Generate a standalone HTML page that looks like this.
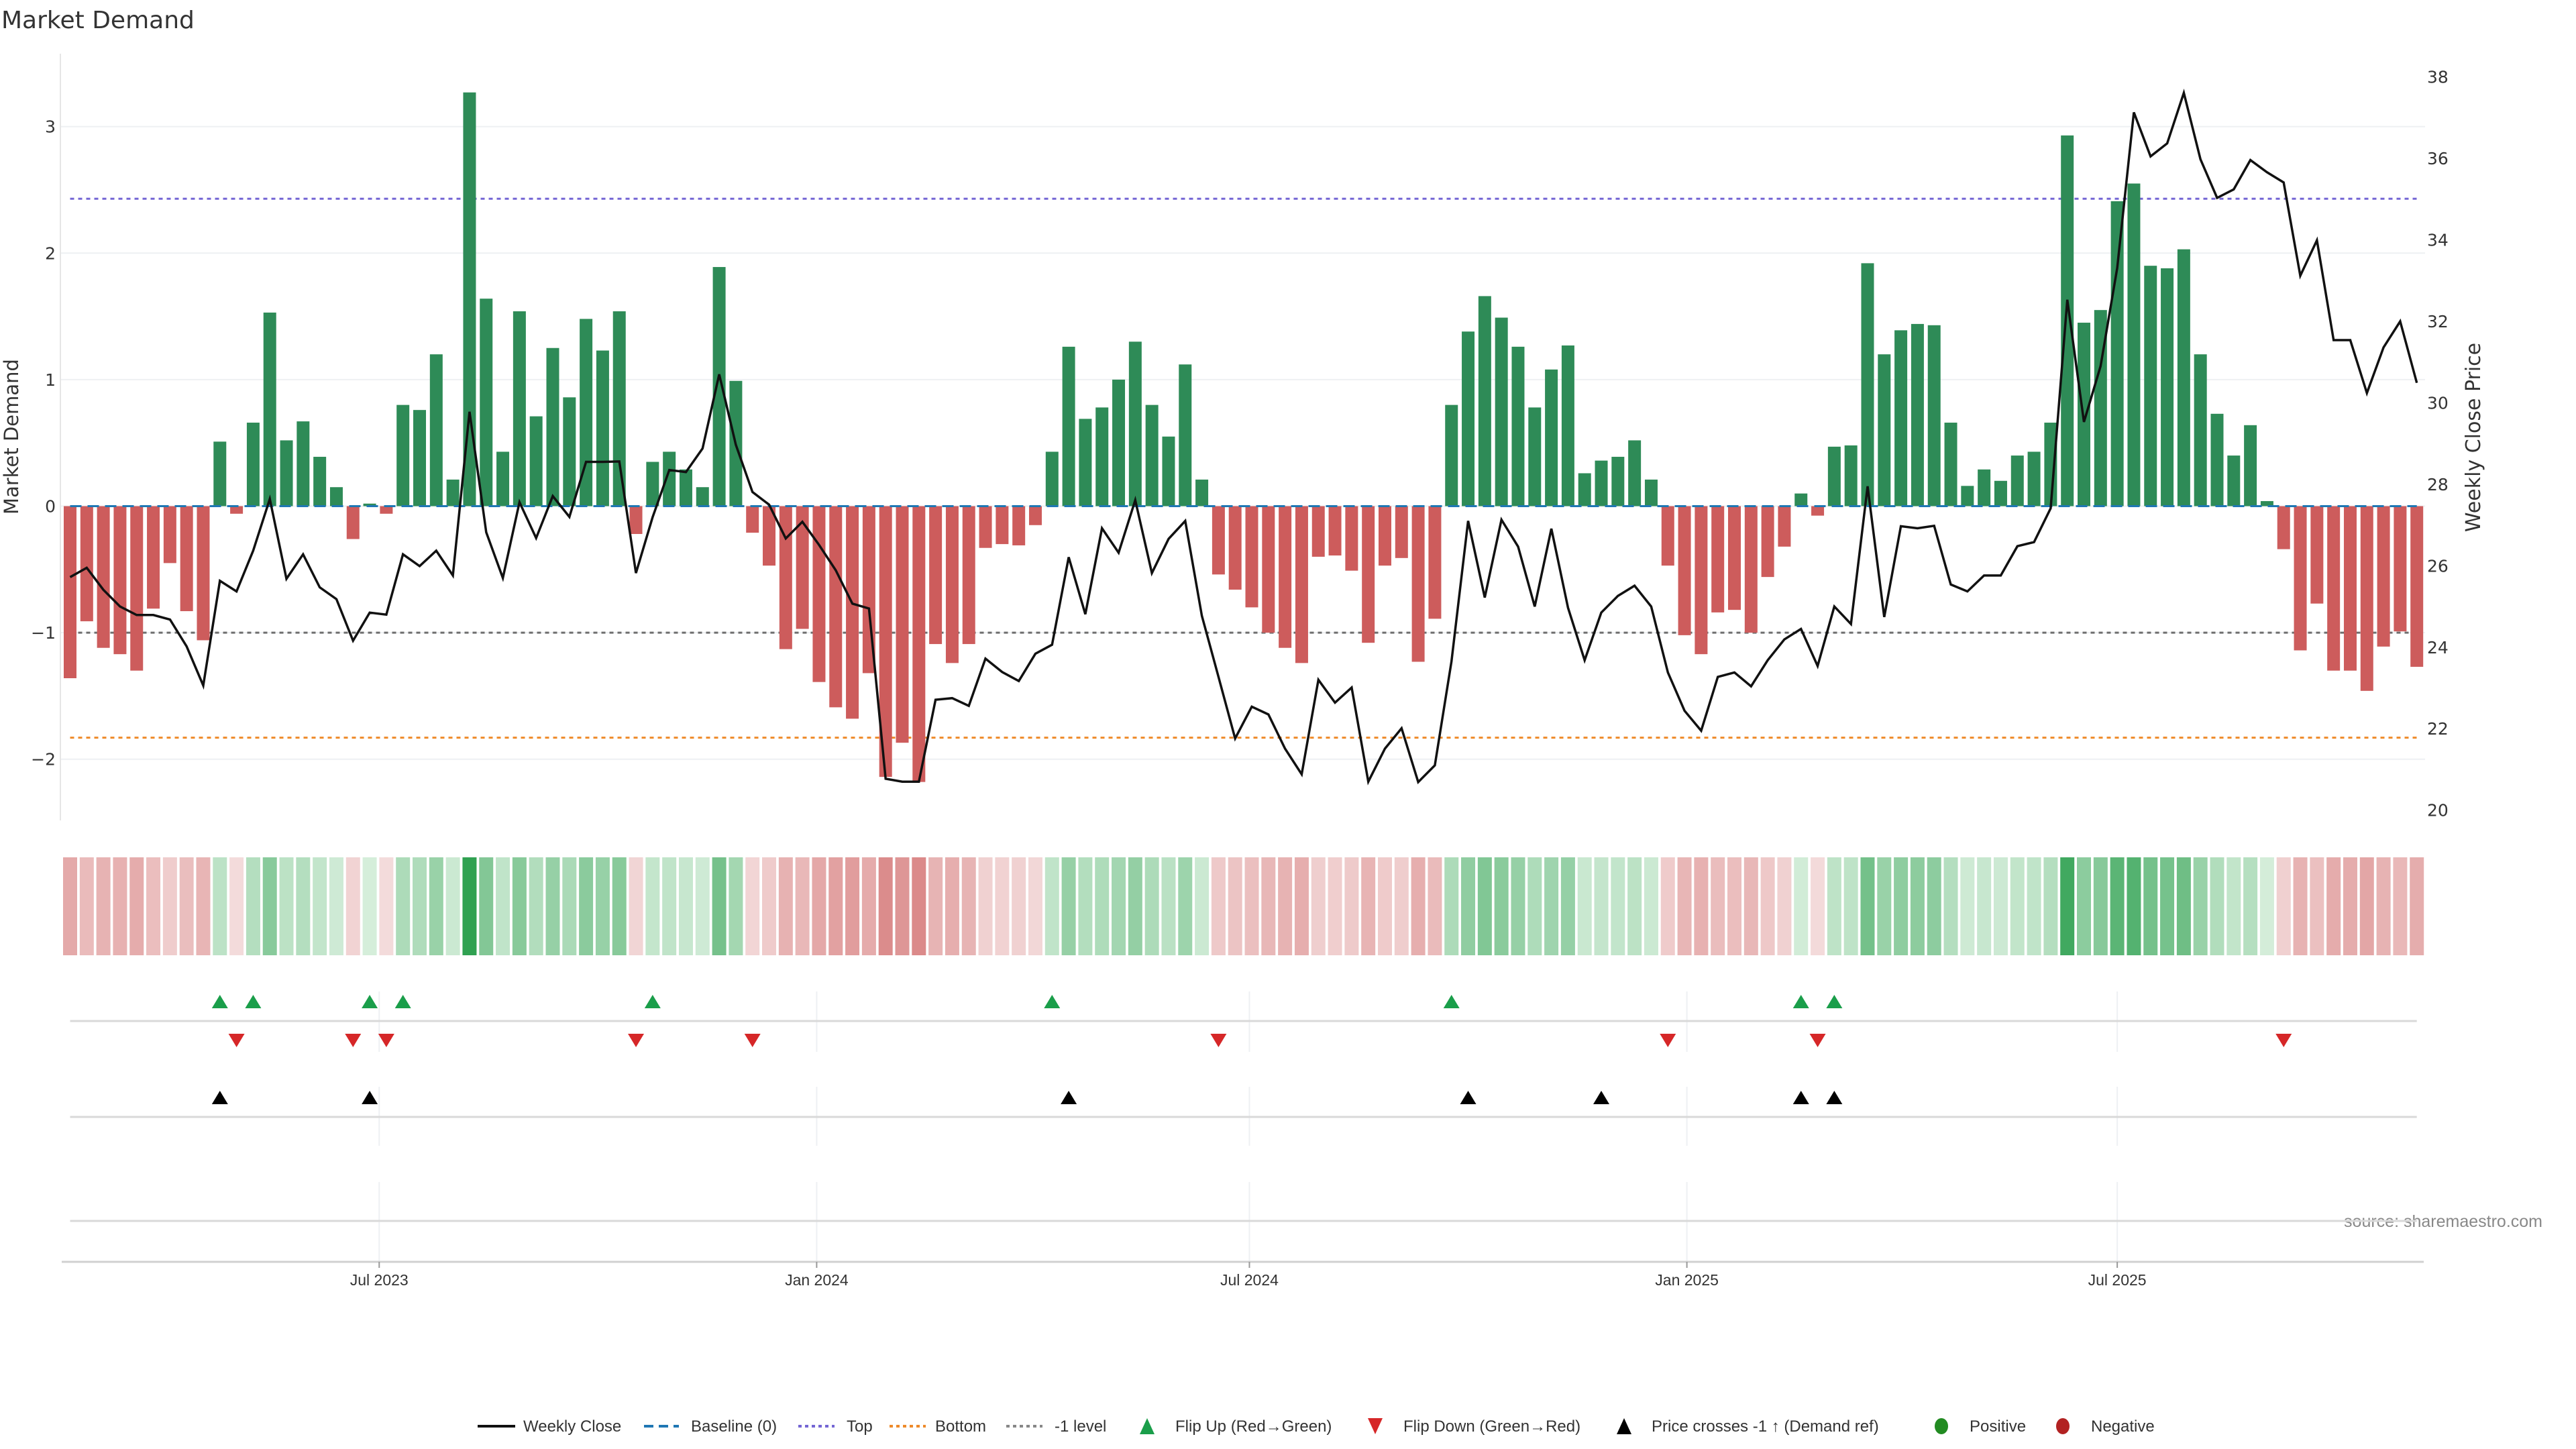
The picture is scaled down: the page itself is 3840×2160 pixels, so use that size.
<!DOCTYPE html>
<html><head><meta charset="utf-8"><style>
html,body{margin:0;padding:0;background:#fff;}
svg{display:block;font-family:"DejaVu Sans","Liberation Sans",sans-serif;}
</style></head><body>
<svg id="chart" width="3840" height="2160" viewBox="0 0 3840 2160" xmlns="http://www.w3.org/2000/svg">
<rect x="0" y="0" width="3840" height="2160" fill="#fff"/>
<text x="2" y="42" font-size="36" fill="#333">Market Demand</text>
<text transform="translate(27,651) rotate(-90)" text-anchor="middle" font-size="29" fill="#333">Market Demand</text>
<text transform="translate(3697,652) rotate(-90)" text-anchor="middle" font-size="30" fill="#333">Weekly Close Price</text>
<text x="3790" y="1829" text-anchor="end" font-size="25" fill="#888" font-family="Liberation Sans, sans-serif">source: sharemaestro.com</text>
<g id="grid"></g><g id="refs"></g><g id="bars"></g><g id="line"></g><g id="strip"></g><g id="markers"></g><g id="axes"></g>
<g id="legend"></g>
</svg>
<script>
const demand = [-1.36,-0.91,-1.12,-1.17,-1.30,-0.81,-0.45,-0.83,-1.06,0.51,
-0.06,0.66,1.53,0.52,0.67,0.39,0.15,-0.26,0.02,-0.06,
0.80,0.76,1.20,0.21,3.27,1.64,0.43,1.54,0.71,1.25,
0.86,1.48,1.23,1.54,-0.22,0.35,0.43,0.29,0.15,1.89,
0.99,-0.21,-0.47,-1.13,-0.97,-1.39,-1.59,-1.68,-1.32,-2.14,
-1.87,-2.18,-1.09,-1.24,-1.09,-0.33,-0.30,-0.31,-0.15,0.43,
1.26,0.69,0.78,1.00,1.30,0.80,0.55,1.12,0.21,-0.54,
-0.66,-0.80,-1.00,-1.12,-1.24,-0.40,-0.39,-0.51,-1.08,-0.47,
-0.41,-1.23,-0.89,0.80,1.38,1.66,1.49,1.26,0.78,1.08,
1.27,0.26,0.36,0.39,0.52,0.21,-0.47,-1.02,-1.17,-0.84,
-0.82,-1.00,-0.56,-0.32,0.10,-0.075,0.47,0.48,1.92,1.20,
1.39,1.44,1.43,0.66,0.16,0.29,0.20,0.40,0.43,0.66,
2.93,1.45,1.55,2.41,2.55,1.90,1.88,2.03,1.20,0.73,
0.40,0.64,0.04,-0.34,-1.14,-0.77,-1.30,-1.30,-1.46,-1.11,
-0.99,-1.27];
const closePrice = [25.72,25.95,25.41,25.0,24.79,24.79,24.68,24.02,23.06,25.63,
25.37,26.37,27.64,25.68,26.28,25.47,25.18,24.16,24.85,24.80,
26.28,25.99,26.37,25.76,29.78,26.82,25.70,27.56,26.68,27.71,
27.20,28.55,28.55,28.56,25.82,27.19,28.35,28.30,28.88,30.70,
28.97,27.81,27.50,26.67,27.08,26.51,25.89,25.07,24.95,20.77,
20.7,20.7,22.71,22.75,22.56,23.72,23.39,23.17,23.84,24.06,
26.21,24.81,26.92,26.32,27.61,25.82,26.66,27.10,24.77,23.27,
21.76,22.54,22.35,21.51,20.88,23.20,22.64,23.01,20.70,21.51,
22.01,20.69,21.10,23.65,27.10,25.22,27.13,26.47,25.0,26.91,
24.97,23.68,24.85,25.26,25.51,25.0,23.38,22.44,21.95,23.27,
23.38,23.04,23.68,24.19,24.45,23.54,25.00,24.57,27.95,24.74,
26.97,26.92,26.98,25.54,25.37,25.76,25.76,26.48,26.58,27.41,
32.53,29.53,30.90,33.31,37.13,36.05,36.37,37.61,35.98,35.03,
35.24,35.96,35.66,35.41,33.12,33.99,31.54,31.54,30.24,31.36,
32.00,30.49];
const firstWeek = "2023-02-21";
const leftTicks = [-2,-1,0,1,2,3];
const rightTicks = [20,22,24,26,28,30,32,34,36,38];
const dateTicks = ["2023-07-01","2024-01-01","2024-07-01","2025-01-01","2025-07-01"];
const dateTickLabels = ["Jul 2023","Jan 2024","Jul 2024","Jan 2025","Jul 2025"];
const topLevel = 2.43;
const bottomLevel = -1.83;
const minusLevel = -1;

const NS="http://www.w3.org/2000/svg";
function mk(tag, attrs, parent){const e=document.createElementNS(NS,tag);for(const k in attrs)e.setAttribute(k,attrs[k]);parent.appendChild(e);return e;}
const PX_WEEK=24.81, X0=104.5;
function xIdx(i){return X0+PX_WEEK*i;}
function xDate(s){const d0=new Date(firstWeek+"T00:00:00Z"), d=new Date(s+"T00:00:00Z");return X0+(d-d0)/86400000/7*PX_WEEK;}
function yL(v){return 754.5-188.6*v;}
function yR(p){return 114.7+(38-p)*60.72;}
const XL=90, XR=3615, xa=xIdx(0), xb=xIdx(demand.length-1);

const grid=document.getElementById('grid');
leftTicks.forEach(t=>{
  const l=mk('line',{x1:XL,x2:XR,y1:yL(t),y2:yL(t),stroke:'#eef0f3','stroke-width':2},grid);
  
  const tx=mk('text',{x:83,y:yL(t)+9,'text-anchor':'end','font-size':25,fill:'#333'},grid);
  
  tx.textContent=(t<0?'\u2212'+(-t):String(t));
});
rightTicks.forEach(t=>{
  const tx=mk('text',{x:3618,y:yR(t)+9,'font-size':25,fill:'#333'},grid);
  
  tx.textContent=String(t);
});
mk('line',{x1:XL,x2:XL,y1:80,y2:1223,stroke:'#e6e6e6','stroke-width':2},grid);

const refs=document.getElementById('refs');
function ref(v,color,dash,name){const l=mk('line',{x1:xa,x2:xb,y1:yL(v),y2:yL(v),stroke:color,'stroke-width':3,'stroke-dasharray':dash},refs);
}
ref(topLevel,'#7466d4','6,6','top-line');
ref(minusLevel,'#6e6e6e','6,6','minus-one-line');
ref(bottomLevel,'#ee8a2a','6,6','bottom-line');

const bars=document.getElementById('bars');
const BW=19;
demand.forEach((v,i)=>{
  const y0=yL(0),y1=yL(v);
  const r=mk('rect',{x:xIdx(i)-BW/2,y:Math.min(y0,y1),width:BW,height:Math.max(1,Math.abs(y1-y0)),fill:v>=0?'#2e8b57':'#cd5c5c'},bars);
  
});
const base=mk('line',{x1:xa,x2:xb,y1:yL(0),y2:yL(0),stroke:'#1f77b4','stroke-width':3,'stroke-dasharray':'17,9'},bars);


const lineG=document.getElementById('line');
const pl=mk('polyline',{points:closePrice.map((p,i)=>xIdx(i).toFixed(1)+','+yR(p).toFixed(1)).join(' '),fill:'none',stroke:'#111','stroke-width':3.5,'stroke-linejoin':'miter'},lineG);


const strip=document.getElementById('strip');
function mix(a,b,t){return 'rgb('+a.map((c,k)=>Math.round(c+(b[k]-c)*t)).join(',')+')';}
demand.forEach((v,i)=>{
  const t=Math.min(Math.abs(v)/3.3,1);
  const col=v>=0?mix([214,238,219],[46,160,80],t):mix([244,221,221],[206,96,96],t);
  const r=mk('rect',{x:xIdx(i)-10.5,y:1278,width:21,height:146,fill:col},strip);
  
});

const mg=document.getElementById('markers');
dateTicks.forEach(d=>{const x=xDate(d);
  [[1478,1568],[1620,1708],[1762,1881]].forEach(s=>{const g=mk('line',{x1:x,x2:x,y1:s[0],y2:s[1],stroke:'#eef0f3','stroke-width':2},mg);
  });
});
[1522,1665,1820].forEach(y=>{const l=mk('line',{x1:xa,x2:xb,y1:y,y2:y,stroke:'#d9d9d9','stroke-width':3},mg);
  });
function tri(x,y,up,color,name){
  const w=12,h=10;
  const pts=up?`${x-w},${y+h} ${x+w},${y+h} ${x},${y-h}`:`${x-w},${y-h} ${x+w},${y-h} ${x},${y+h}`;
  const p=mk('polygon',{points:pts,fill:color},mg);
  
}
const crossLevel=38-(yL(minusLevel)-114.7)/60.72;
for(let i=1;i<demand.length;i++){
  if(demand[i-1]<0&&demand[i]>=0)tri(xIdx(i),1493,true,'#1a9e4a','flip-up-marker');
  if(demand[i-1]>=0&&demand[i]<0)tri(xIdx(i),1551,false,'#d62728','flip-down-marker');
  if(closePrice[i-1]<crossLevel&&closePrice[i]>=crossLevel)tri(xIdx(i),1636,true,'#000','price-cross-marker');
}

const ax=document.getElementById('axes');
const al=mk('line',{x1:92,x2:3613,y1:1881,y2:1881,stroke:'#d0d0d0','stroke-width':3},ax);

dateTicks.forEach((d,k)=>{const x=xDate(d);
  mk('line',{x1:x,x2:x,y1:1881,y2:1890,stroke:'#999','stroke-width':2},ax);
  const t=mk('text',{x:x,y:1916,'text-anchor':'middle','font-size':23,fill:'#333','font-family':'Liberation Sans, sans-serif'},ax);
  
  t.textContent=dateTickLabels[k];
});

const lg=document.getElementById('legend');
const LY=2126;
function ltext(x,s){const t=mk('text',{x:x,y:LY+8,'font-size':24,fill:'#333','font-family':'Liberation Sans, sans-serif'},lg);
  t.textContent=s;}
function lline(x1,x2,c,dash,w){const l=mk('line',{x1:x1,x2:x2,y1:LY,y2:LY,stroke:c,'stroke-width':w,'stroke-dasharray':dash},lg);
  }
lline(712,768,'#111','none',4);ltext(780,'Weekly Close');
lline(960,1012,'#1f77b4','14,8',4);ltext(1030,'Baseline (0)');
lline(1190,1244,'#7466d4','5,5',4);ltext(1262,'Top');
lline(1326,1380,'#ee8a2a','5,5',4);ltext(1394,'Bottom');
lline(1500,1554,'#888','5,5',4);ltext(1572,'-1 level');
function ltri(x,up,c){const w=11,h=12;const pts=up?`${x-w},${LY+h} ${x+w},${LY+h} ${x},${LY-h}`:`${x-w},${LY-h} ${x+w},${LY-h} ${x},${LY+h}`;
  const p=mk('polygon',{points:pts,fill:c},lg);}
ltri(1710,true,'#1a9e4a');ltext(1752,'Flip Up (Red\u2192Green)');
ltri(2050,false,'#d62728');ltext(2092,'Flip Down (Green\u2192Red)');
ltri(2421,true,'#000');ltext(2462,'Price crosses -1 \u2191 (Demand ref)');
function lcirc(x,c){const e=mk('ellipse',{cx:x,cy:LY,rx:10,ry:12,fill:c},lg);}
lcirc(2894,'#228b22');ltext(2936,'Positive');
lcirc(3075,'#b22222');ltext(3117,'Negative');
</script>
</body></html>
